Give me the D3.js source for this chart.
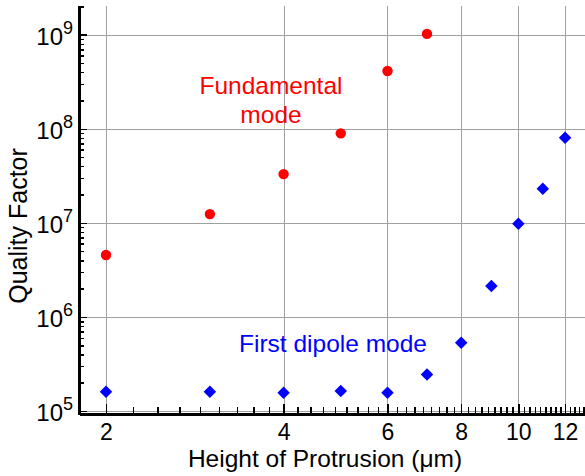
<!DOCTYPE html>
<html lang="en">
<head>
<meta charset="utf-8">
<script src="https://d3js.org/d3.v7.min.js"></script>
<title>Quality Factor vs Height of Protrusion</title>
<style>
    body { margin: 0; background: #fff; }
    svg { display: block; font-family: "Liberation Sans", Arial, sans-serif; }
    .grid line { stroke: #a0a0a0; stroke-width: 1px; shape-rendering: crispEdges; }
    .axis path, .axis line { stroke: #000; shape-rendering: crispEdges; }
    .axis path { stroke-width: 2px; }
    .axis line { stroke-width: 1.5px; }
</style>
</head>
<body>
<script>
// data
const heights = [2, 3, 4, 5, 6, 7, 8, 9, 10, 11, 12];
const fundamentalQ = [4.55e6, 1.24e7, 3.3e7, 8.95e7, 4.11e8, 1.02e9];
const dipoleQ = [1.6e5, 1.6e5, 1.56e5, 1.63e5, 1.56e5, 2.45e5, 5.32e5, 2.13e6, 9.79e6, 2.31e7, 8.04e7];
const xMajor = [2, 4, 6, 8, 10, 12];
const yMajor = [1e5, 1e6, 1e7, 1e8, 1e9];

const width = 585, height = 476;

const svg = d3.select("body").append("svg")
    .attr("width", width).attr("height", height);

const x = d3.scaleLog().domain([1.8, 12.97]).range([79, 585]);
const y = d3.scaleLog().domain([9.3e4, 2e9]).range([414, 6.4]);

// minor ticks: every major step split into 9
let xMinor = [];
for (let a = 2; a <= 12; a += 2) {
    for (let j = 1; j < 9; j++) {
        let v = a + 2 * j / 9;
        if (v < x.domain()[1]) xMinor.push(v);
    }
}
let yMinor = [];
for (let e = 4; e <= 9; e++) {
    for (let m = 2; m <= 9; m++) {
        let v = m * Math.pow(10, e);
        if (v >= y.domain()[0] && v <= y.domain()[1]) yMinor.push(v);
    }
}

// grid
const grid = svg.append("g").attr("class", "grid");
grid.selectAll(".gx").data(xMajor).enter().append("line")
    .attr("x1", d => Math.round(x(d)) + 0.5).attr("x2", d => Math.round(x(d)) + 0.5)
    .attr("y1", y.range()[1]).attr("y2", y.range()[0]);
grid.selectAll(".gy").data(yMajor).enter().append("line")
    .attr("x1", x.range()[0]).attr("x2", x.range()[1])
    .attr("y1", d => Math.round(y(d)) + 0.5).attr("y2", d => Math.round(y(d)) + 0.5);

// x axis
const xAxisG = svg.append("g").attr("class", "axis").attr("transform", "translate(0," + y.range()[0] + ")");
xAxisG.append("g").call(d3.axisBottom(x).tickValues(xMinor).tickSizeInner(-7).tickSizeOuter(0).tickFormat(""));
xAxisG.append("g").call(d3.axisBottom(x).tickValues(xMajor).tickSizeInner(-10).tickSizeOuter(0).tickPadding(0).tickFormat(d3.format("d")))
    .call(g => g.selectAll("text")
        .attr("y", 26).attr("dy", 0)
        .attr("font-size", "23px").attr("font-family", null).attr("fill", "#000"));
xAxisG.append("line").attr("x1", x.range()[0] - 1).attr("x2", x.range()[1])
    .attr("y1", 0).attr("y2", 0).style("stroke-width", "2px");

// y axis
const yAxisG = svg.append("g").attr("class", "axis").attr("transform", "translate(" + x.range()[0] + ",0)");
yAxisG.append("g").call(d3.axisLeft(y).tickValues(yMinor).tickSizeInner(-5).tickSizeOuter(0).tickFormat(""));
yAxisG.append("g").call(d3.axisLeft(y).tickValues(yMajor).tickSizeInner(-8).tickSizeOuter(0).tickFormat(""));
yAxisG.append("line").attr("x1", 0).attr("x2", 0)
    .attr("y1", y.range()[1]).attr("y2", y.range()[0] + 1).style("stroke-width", "2px");

svg.append("g").selectAll("text").data(yMajor).enter().append("text")
    .attr("x", 73).attr("y", d => y(d) + 10)
    .attr("text-anchor", "end")
    .each(function (d) {
        const t = d3.select(this);
        t.append("tspan").attr("font-size", "24px").text("10");
        t.append("tspan").attr("font-size", "18px").attr("dy", -11).text(Math.round(Math.log10(d)));
    });

// axis titles
svg.append("text").attr("x", 325).attr("y", 467)
    .attr("text-anchor", "middle").attr("font-size", "24.5px")
    .text("Height of Protrusion (\u03bcm)");
svg.append("text").attr("transform", "translate(27,226) rotate(-90)")
    .attr("text-anchor", "middle").attr("font-size", "25px")
    .text("Quality Factor");

// points
svg.append("g").selectAll("circle").data(fundamentalQ).enter().append("circle")
    .attr("cx", (d, i) => x(heights[i])).attr("cy", d => y(d))
    .attr("r", 5.2).attr("fill", "#ff0000");

const diamond = d3.symbol().type(d3.symbolSquare).size(78);
svg.append("g").selectAll("path").data(dipoleQ).enter().append("path")
    .attr("d", diamond)
    .attr("transform", (d, i) => "translate(" + x(heights[i]) + "," + y(d) + ") rotate(45)")
    .attr("fill", "#0000ff");

// labels
const fLabel = svg.append("text").attr("text-anchor", "middle").attr("font-size", "24.5px").attr("fill", "#ff0000");
fLabel.append("tspan").attr("x", 271).attr("y", 94).text("Fundamental");
fLabel.append("tspan").attr("x", 271).attr("y", 123).text("mode");

svg.append("text").attr("x", 333).attr("y", 352)
    .attr("text-anchor", "middle").attr("font-size", "24.5px").attr("fill", "#0000ff")
    .text("First dipole mode");
</script>
</body>
</html>
